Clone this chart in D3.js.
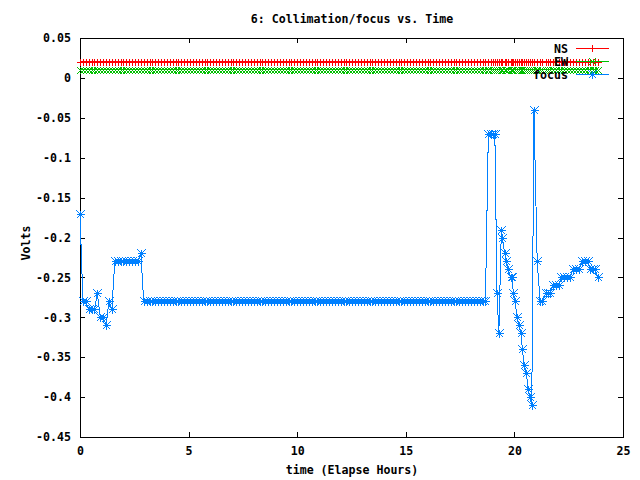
<!DOCTYPE html>
<html><head><meta charset="utf-8">
<script src="https://cdn.jsdelivr.net/npm/d3@7"></script>
<style>
body{margin:0;background:#fff}
svg{display:block}
text{font-family:"DejaVu Sans Mono",monospace;font-weight:bold;font-size:11.6px;fill:#000}
</style>
</head><body>
<svg id="c" width="640" height="480"></svg>
<script>
// sample times, minutes after start
const minutes = [
0,8,16,24,32, 40,48,56,64,72, 80,88,96,104,112, 120,128,136,144,152, 160,168,
176,184,192,200,208, 216,224,232,240,248, 256,264,272,280,288, 296,304,
312,320,328,336,344, 352,360,368,376,384, 392,400,408,416,424, 432,440,
448,456,464,472,480, 488,496,504,512,520, 528,536,544,552,560, 568,576,
584,592,600,608,616, 624,632,640,648,656, 664,672,680,688,696, 704,712,
720,728,736,744,752, 760,768,776,784,792, 800,808,816,824,832, 840,848,
856,864,872,880,888, 896,904,912,920,928, 936,944,952,960,968, 976,984,
992,1000,1008,1016,1024, 1032,1040,1048,1056,1064, 1072,1080,1088,1096,1104, 1112,1120,
1128,1134,1140,1146,1152,1157,1164,
1167,1173,1178,1183,1190,1194,1197,
1202,1207,1213,1218,1222,1227,1233,
1238,1243,1248,1254,1263,1271,1277,
1286,1292,1299,1306,1314,1322,1330,1338,1346,1354,
1362,1370,1378,1388,1396,1403,1410,1417,1423,1430
];
const focus = [
-0.17,-0.28,-0.28,-0.29,-0.29, -0.29,-0.27,-0.30,-0.30,-0.31, -0.28,-0.29,-0.23,-0.23,-0.23, -0.23,-0.23,-0.23,-0.23,-0.23, -0.23,-0.22,
-0.28,-0.28,-0.28,-0.28,-0.28, -0.28,-0.28,-0.28,-0.28,-0.28, -0.28,-0.28,-0.28,-0.28,-0.28, -0.28,-0.28,
-0.28,-0.28,-0.28,-0.28,-0.28, -0.28,-0.28,-0.28,-0.28,-0.28, -0.28,-0.28,-0.28,-0.28,-0.28, -0.28,-0.28,
-0.28,-0.28,-0.28,-0.28,-0.28, -0.28,-0.28,-0.28,-0.28,-0.28, -0.28,-0.28,-0.28,-0.28,-0.28, -0.28,-0.28,
-0.28,-0.28,-0.28,-0.28,-0.28, -0.28,-0.28,-0.28,-0.28,-0.28, -0.28,-0.28,-0.28,-0.28,-0.28, -0.28,-0.28,
-0.28,-0.28,-0.28,-0.28,-0.28, -0.28,-0.28,-0.28,-0.28,-0.28, -0.28,-0.28,-0.28,-0.28,-0.28, -0.28,-0.28,
-0.28,-0.28,-0.28,-0.28,-0.28, -0.28,-0.28,-0.28,-0.28,-0.28, -0.28,-0.28,-0.28,-0.28,-0.28, -0.28,-0.28,
-0.28,-0.28,-0.28,-0.28,-0.28, -0.28,-0.28,-0.28,-0.28,-0.28, -0.28,-0.28,-0.28,-0.28,-0.28, -0.28,-0.28,
-0.07,-0.07,-0.07,-0.07,-0.27,-0.32,-0.19,
-0.20,-0.22,-0.23,-0.24,-0.25,-0.25,-0.27,
-0.28,-0.30,-0.31,-0.32,-0.34,-0.36,-0.37,
-0.39,-0.40,-0.41,-0.04,-0.23,-0.28,-0.28,
-0.27,-0.27,-0.27,-0.26,-0.26,-0.26,-0.25,-0.25,-0.25,-0.25,
-0.24,-0.24,-0.24,-0.23,-0.23,-0.23,-0.24,-0.24,-0.24,-0.25
];
const ns = [
0.02,0.02,0.02,0.02,0.02, 0.02,0.02,0.02,0.02,0.02, 0.02,0.02,0.02,0.02,0.02, 0.02,0.02,0.02,0.02,0.02, 0.02,0.02,
0.02,0.02,0.02,0.02,0.02, 0.02,0.02,0.02,0.02,0.02, 0.02,0.02,0.02,0.02,0.02, 0.02,0.02,
0.02,0.02,0.02,0.02,0.02, 0.02,0.02,0.02,0.02,0.02, 0.02,0.02,0.02,0.02,0.02, 0.02,0.02,
0.02,0.02,0.02,0.02,0.02, 0.02,0.02,0.02,0.02,0.02, 0.02,0.02,0.02,0.02,0.02, 0.02,0.02,
0.02,0.02,0.02,0.02,0.02, 0.02,0.02,0.02,0.02,0.02, 0.02,0.02,0.02,0.02,0.02, 0.02,0.02,
0.02,0.02,0.02,0.02,0.02, 0.02,0.02,0.02,0.02,0.02, 0.02,0.02,0.02,0.02,0.02, 0.02,0.02,
0.02,0.02,0.02,0.02,0.02, 0.02,0.02,0.02,0.02,0.02, 0.02,0.02,0.02,0.02,0.02, 0.02,0.02,
0.02,0.02,0.02,0.02,0.02, 0.02,0.02,0.02,0.02,0.02, 0.02,0.02,0.02,0.02,0.02, 0.02,0.02,
0.02,0.02,0.02,0.02,0.02,0.02,0.02,
0.02,0.02,0.02,0.02,0.02,0.02,0.02,
0.02,0.02,0.02,0.02,0.02,0.02,0.02,
0.02,0.02,0.02,0.02,0.02,0.02,0.02,
0.02,0.02,0.02,0.02,0.02,0.02,0.02,0.02,0.02,0.02,
0.02,0.02,0.02,0.02,0.02,0.02,0.02,0.02,0.02,0.02
];
const ew = [
0.01,0.01,0.01,0.01,0.01, 0.01,0.01,0.01,0.01,0.01, 0.01,0.01,0.01,0.01,0.01, 0.01,0.01,0.01,0.01,0.01, 0.01,0.01,
0.01,0.01,0.01,0.01,0.01, 0.01,0.01,0.01,0.01,0.01, 0.01,0.01,0.01,0.01,0.01, 0.01,0.01,
0.01,0.01,0.01,0.01,0.01, 0.01,0.01,0.01,0.01,0.01, 0.01,0.01,0.01,0.01,0.01, 0.01,0.01,
0.01,0.01,0.01,0.01,0.01, 0.01,0.01,0.01,0.01,0.01, 0.01,0.01,0.01,0.01,0.01, 0.01,0.01,
0.01,0.01,0.01,0.01,0.01, 0.01,0.01,0.01,0.01,0.01, 0.01,0.01,0.01,0.01,0.01, 0.01,0.01,
0.01,0.01,0.01,0.01,0.01, 0.01,0.01,0.01,0.01,0.01, 0.01,0.01,0.01,0.01,0.01, 0.01,0.01,
0.01,0.01,0.01,0.01,0.01, 0.01,0.01,0.01,0.01,0.01, 0.01,0.01,0.01,0.01,0.01, 0.01,0.01,
0.01,0.01,0.01,0.01,0.01, 0.01,0.01,0.01,0.01,0.01, 0.01,0.01,0.01,0.01,0.01, 0.01,0.01,
0.01,0.01,0.01,0.01,0.01,0.01,0.01,
0.01,0.01,0.01,0.01,0.01,0.01,0.01,
0.01,0.01,0.01,0.01,0.01,0.01,0.01,
0.01,0.01,0.01,0.01,0.01,0.01,0.01,
0.01,0.01,0.01,0.01,0.01,0.01,0.01,0.01,0.01,0.01,
0.01,0.01,0.01,0.01,0.01,0.01,0.01,0.01,0.01,0.01
];
const xTicks = [0,5,10,15,20,25];
const xTickLabels = ["0","5","10","15","20","25"];
const yTicks = [0.05,0,-0.05,-0.1,-0.15,-0.2,-0.25,-0.3,-0.35,-0.4,-0.45];
const yTickLabels = ["0.05","0","-0.05","-0.1","-0.15","-0.2","-0.25","-0.3","-0.35","-0.4","-0.45"];
const seriesNames = ["NS","EW","focus"];
const seriesColors = ["#ff0000","#00c000","#0080ff"];
const seriesMarkers = ["plus","cross","star"];
const titleText = "6: Collimation/focus vs. Time";
const xLabelText = "time (Elapse Hours)";
const yLabelText = "Volts";

const L = 80, R = 623, T = 38, B = 437;
const svg = d3.select("#c");
const x = d3.scaleLinear().domain([0,25]).range([L,R]);
const y = d3.scaleLinear().domain([-0.45,0.05]).range([B,T]);

function styleAxis(g){
  g.select(".domain").remove();
  g.selectAll("line").attr("stroke","#000").attr("shape-rendering","crispEdges");
  g.selectAll("text").attr("fill","#000");
}
svg.append("g").attr("transform",`translate(${L},0)`)
  .call(d3.axisLeft(y).tickValues(yTicks).tickSize(-5).tickPadding(9)
    .tickFormat((d,i)=>yTickLabels[i])).call(styleAxis);
svg.append("g").attr("transform",`translate(${R},0)`)
  .call(d3.axisRight(y).tickValues(yTicks).tickSize(-5).tickFormat(""))
  .call(styleAxis);
svg.append("g").attr("transform",`translate(0,${B})`)
  .call(d3.axisBottom(x).tickValues(xTicks).tickSize(-5).tickPadding(10)
    .tickFormat((d,i)=>xTickLabels[i])).call(styleAxis);
svg.append("g").attr("transform",`translate(0,${T})`)
  .call(d3.axisTop(x).tickValues(xTicks).tickSize(-5).tickFormat(""))
  .call(styleAxis);
svg.selectAll("g").attr("font-family",null).attr("font-size",null);

svg.append("rect").attr("x",L+0.5).attr("y",T+0.5).attr("width",R-L).attr("height",B-T)
  .attr("fill","none").attr("stroke","#000").attr("shape-rendering","crispEdges");

svg.append("text").attr("x",(L+R)/2+0.5).attr("y",23).attr("text-anchor","middle").text(titleText);
svg.append("text").attr("x",(L+R)/2+0.5).attr("y",474).attr("text-anchor","middle").text(xLabelText);
svg.append("text").attr("transform",`translate(30,243) rotate(-90)`)
  .attr("text-anchor","middle").text(yLabelText);

function markerPath(type,cx,cy){
  const h = type==="star" ? 4 : 3.5;
  const p = `M${cx-h},${cy}H${cx+h}M${cx},${cy-h}V${cy+h}`;
  const c = `M${cx-h},${cy-h}L${cx+h},${cy+h}M${cx-h},${cy+h}L${cx+h},${cy-h}`;
  if(type==="plus") return p;
  if(type==="cross") return c;
  return p + c;
}

const seriesValues = [ns, ew, focus];
const line = d3.line().x(d=>d[0]).y(d=>d[1]);
const keyX1 = 576, keyX2 = 609, keyTextX = 568, keyY0 = 48.5, keyDy = 13;

seriesValues.forEach((vals,k)=>{
  const col = seriesColors[k];
  const ky = keyY0 + k*keyDy;
  // key entry
  svg.append("text").attr("x",keyTextX).attr("y",ky+4.3).attr("text-anchor","end").text(seriesNames[k]);
  svg.append("path").attr("d",`M${keyX1},${ky}H${keyX2}`).attr("stroke",col)
    .attr("fill","none").attr("shape-rendering","crispEdges");
  svg.append("path").attr("d",markerPath(seriesMarkers[k],(keyX1+keyX2)/2,ky))
    .attr("stroke",col).attr("fill","none").attr("shape-rendering","crispEdges");
  // data
  const n = Math.min(vals.length, minutes.length);
  const pts = [];
  for(let i=0;i<n;i++) pts.push([x(minutes[i]/60), y(vals[i])]);
  svg.append("path").attr("d",line(pts)).attr("stroke",col).attr("fill","none")
    .attr("stroke-width",1).attr("shape-rendering","crispEdges");
  const mp = pts.map(p=>markerPath(seriesMarkers[k], Math.round(p[0])+0.5, Math.round(p[1])+0.5)).join("");
  svg.append("path").attr("d",mp).attr("stroke",col).attr("fill","none")
    .attr("stroke-width",1).attr("shape-rendering","crispEdges");
});
</script>
</body></html>
